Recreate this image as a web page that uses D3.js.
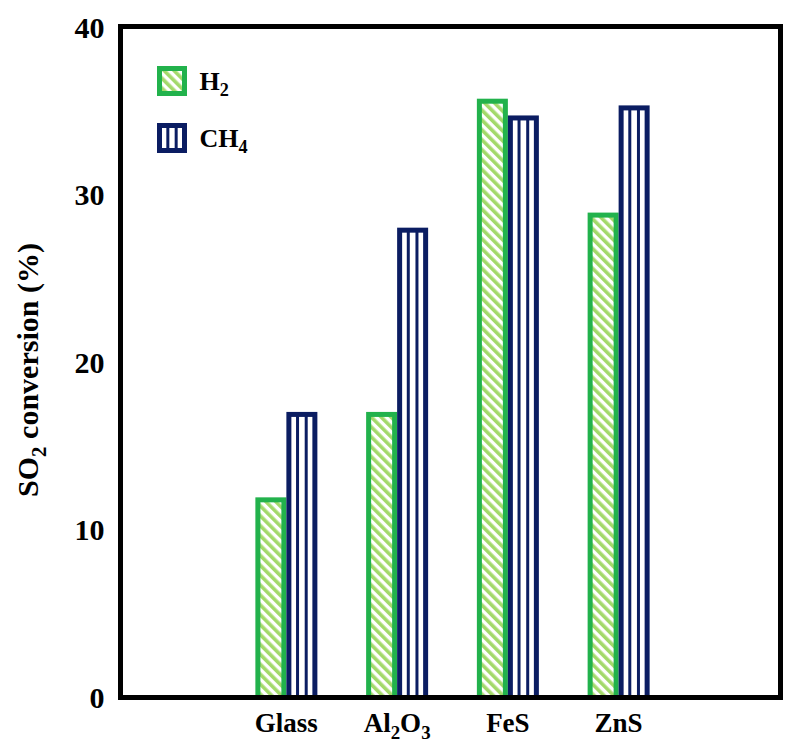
<!DOCTYPE html>
<html>
<head>
<meta charset="utf-8">
<script src="https://cdn.jsdelivr.net/npm/d3@7"></script>
<style>
  html, body { margin: 0; padding: 0; background: #fff; }
  svg { display: block; }
</style>
</head>
<body>
<div id="chart"></div>
<script>
// SO2 conversion over different catalysts, H2 vs CH4 as reducing agent
const categories = ["Glass", "Al2O3", "FeS", "ZnS"];
const series = ["H2", "CH4"];
const h2Values = [11.8, 16.9, 35.6, 28.8];
const ch4Values = [16.9, 27.9, 34.6, 35.2];
const yTicks = [0, 10, 20, 30, 40];

const green = "#22b24c";
const lightGreen = "#a3d96a";
const navy = "#0b1d62";
const font = "'Liberation Serif', 'Times New Roman', serif";

const width = 798, height = 748;
const frame = { left: 120.5, right: 780.5, top: 26.5, bottom: 697.5 };

const svg = d3.select("#chart").append("svg")
    .attr("width", width)
    .attr("height", height)
    .style("font-family", font);

// diagonal stripe fill for the H2 bars
const defs = svg.append("defs");
const stripes = defs.append("pattern")
    .attr("id", "stripes")
    .attr("patternUnits", "userSpaceOnUse")
    .attr("width", 7)
    .attr("height", 7)
    .attr("patternTransform", "rotate(-45)");
stripes.append("rect").attr("width", 7).attr("height", 7).attr("fill", "#fff");
stripes.append("rect").attr("width", 3.6).attr("height", 7).attr("fill", lightGreen);

const x = d3.scaleBand()
    .domain(categories)
    .range([231, 674]);

const x1 = d3.scaleBand()
    .domain(series)
    .range([-31, 31]);

const y = d3.scaleLinear()
    .domain([0, 40])
    .range([frame.bottom, 27.5]);

// writes "Al2O3" style labels with digits as subscripts
function subscripted(text, label, size) {
    const parts = label.match(/[^0-9]+|[0-9]+/g);
    let sub = false;
    parts.forEach(p => {
        const isNum = /^[0-9]+$/.test(p);
        const t = text.append("tspan").text(p);
        if (isNum) {
            t.attr("font-size", size * 0.7).attr("dy", size * 0.25);
            sub = true;
        } else if (sub) {
            t.attr("dy", -size * 0.25);
            sub = false;
        }
    });
}

const rows = categories.map((c, i) => ({ category: c, H2: h2Values[i], CH4: ch4Values[i] }));

const sw = 5;
const barW = x1.bandwidth() - sw;

const groups = svg.append("g")
    .selectAll("g")
    .data(rows)
    .join("g")
    .attr("transform", d => `translate(${x(d.category) + x.bandwidth() / 2},0)`);

// H2 bars
groups.append("rect")
    .attr("x", x1("H2") + sw / 2)
    .attr("width", barW)
    .attr("y", d => y(d.H2))
    .attr("height", d => y(0) - y(d.H2))
    .attr("fill", "url(#stripes)")
    .attr("stroke", green)
    .attr("stroke-width", sw);

// CH4 bars with vertical bars inside
groups.append("rect")
    .attr("x", x1("CH4") + sw / 2)
    .attr("width", barW)
    .attr("y", d => y(d.CH4))
    .attr("height", d => y(0) - y(d.CH4))
    .attr("fill", "#fff")
    .attr("stroke", navy)
    .attr("stroke-width", sw);

groups.selectAll("line.inner")
    .data(d => [1, 2].map(k => ({ k, v: d.CH4 })))
    .join("line")
    .attr("class", "inner")
    .attr("x1", d => x1("CH4") + sw / 2 + barW * d.k / 3)
    .attr("x2", d => x1("CH4") + sw / 2 + barW * d.k / 3)
    .attr("y1", d => y(d.v))
    .attr("y2", y(0))
    .attr("stroke", navy)
    .attr("stroke-width", 3);

// frame
svg.append("rect")
    .attr("x", frame.left)
    .attr("y", frame.top)
    .attr("width", frame.right - frame.left)
    .attr("height", frame.bottom - frame.top)
    .attr("fill", "none")
    .attr("stroke", "#000")
    .attr("stroke-width", sw);

// y axis labels only
const yAxis = svg.append("g")
    .attr("transform", `translate(${frame.left},0)`)
    .call(d3.axisLeft(y).tickValues(yTicks).tickSize(0).tickPadding(16).tickFormat(d3.format("d")));
yAxis.select(".domain").remove();
yAxis.selectAll("text")
    .attr("font-family", font)
    .attr("font-size", 30)
    .attr("font-weight", "bold")
    .attr("fill", "#000");

svg.append("text")
    .attr("transform", `translate(38,370) rotate(-90)`)
    .attr("text-anchor", "middle")
    .attr("font-size", 30)
    .attr("font-weight", "bold")
    .call(t => subscripted(t, "SO2 conversion (%)", 30));

// category labels
svg.append("g")
    .selectAll("text")
    .data(categories)
    .join("text")
    .attr("x", d => x(d) + x.bandwidth() / 2)
    .attr("y", 732)
    .attr("text-anchor", "middle")
    .attr("font-size", 27)
    .attr("font-weight", "bold")
    .each(function (d) { subscripted(d3.select(this), d, 27); });

// legend
const legend = svg.append("g").attr("transform", "translate(159.5,68.5)");
const legendItems = legend.selectAll("g")
    .data(series)
    .join("g")
    .attr("transform", (d, i) => `translate(0,${i * 57})`);

legendItems.append("rect")
    .attr("width", 25)
    .attr("height", 25)
    .attr("fill", d => d === "H2" ? "url(#stripes)" : "#fff")
    .attr("stroke", d => d === "H2" ? green : navy)
    .attr("stroke-width", sw);

legendItems.filter(d => d === "CH4")
    .selectAll("line")
    .data([1, 2])
    .join("line")
    .attr("x1", k => 25 * k / 3)
    .attr("x2", k => 25 * k / 3)
    .attr("y1", 0)
    .attr("y2", 25)
    .attr("stroke", navy)
    .attr("stroke-width", 3);

legendItems.append("text")
    .attr("x", 40)
    .attr("y", 21)
    .attr("font-size", 26)
    .attr("font-weight", "bold")
    .each(function (d) { subscripted(d3.select(this), d, 26); });
</script>
</body>
</html>
